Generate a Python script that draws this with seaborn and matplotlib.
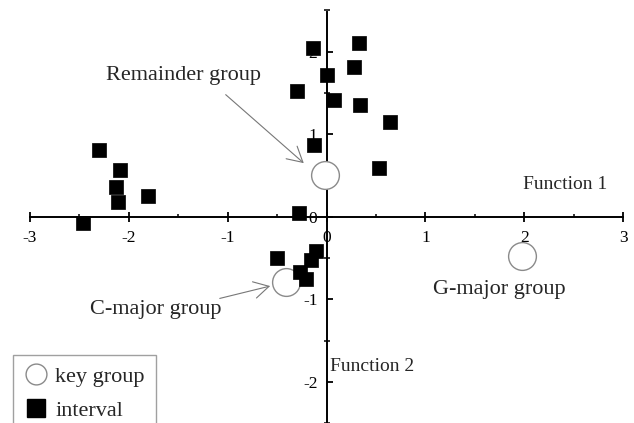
import matplotlib
matplotlib.use("Agg")
import matplotlib.pyplot as plt
from matplotlib.ticker import MultipleLocator
from matplotlib.lines import Line2D
import seaborn as sns
import pandas as pd

# ---- data ----
interval_x = [-0.14, 0.33, 0.28, 0.01, -0.30, 0.08, 0.34, 0.64, -0.13, 0.53,
              -2.30, -2.09, -2.13, -2.11, -1.81, -0.28, -2.46,
              -0.50, -0.11, -0.16, -0.27, -0.21]
interval_y = [2.04, 2.10, 1.82, 1.72, 1.52, 1.41, 1.35, 1.15, 0.87, 0.59,
              0.81, 0.57, 0.36, 0.18, 0.25, 0.05, -0.08,
              -0.50, -0.42, -0.52, -0.67, -0.76]

group_names = ["Remainder group", "C-major group", "G-major group"]
group_x = [-0.02, -0.41, 1.98]
group_y = [0.50, -0.79, -0.48]

x_ticks = [-3, -2, -1, 0, 1, 2, 3]
y_ticks = [-2, -1, 0, 1, 2]

sns.set_theme(style="white")
plt.rcParams['font.family'] = ['Liberation Serif', 'DejaVu Serif']

fig = plt.figure(figsize=(6.34, 4.23), dpi=100)
ax = fig.add_axes([30/634, 0.0, 593/634, 412.5/423])
ax.set_facecolor("white")

df_int = pd.DataFrame({"x": interval_x, "y": interval_y})
df_grp = pd.DataFrame({"x": group_x, "y": group_y, "name": group_names})

sns.scatterplot(data=df_grp, x="x", y="y", ax=ax, marker="o", s=400,
                facecolor="white", edgecolor="#8a8a8a", linewidth=1.0,
                zorder=3, clip_on=False, legend=False)
sns.scatterplot(data=df_int, x="x", y="y", ax=ax, marker="s", s=92,
                color="black", edgecolor="black", linewidth=0.5,
                zorder=4, clip_on=False, legend=False)

ax.set_xlim(-3, 3)
ax.set_ylim(-2.5, 2.5)
ax.set_xlabel("")
ax.set_ylabel("")

for s in ["top", "right"]:
    ax.spines[s].set_visible(False)
ax.spines["left"].set_position(("data", 0))
ax.spines["bottom"].set_position(("data", 0))
ax.spines["bottom"].set_bounds(-3, 3)
ax.spines["left"].set_bounds(-2.5, 2.48)
for s in ["left", "bottom"]:
    ax.spines[s].set_color("black")
    ax.spines[s].set_linewidth(1.4)

ax.set_xticks(x_ticks)
ax.set_yticks(y_ticks)
ax.set_xticklabels([str(t) for t in x_ticks])
ax.set_yticklabels([str(t) for t in y_ticks])
ax.xaxis.set_minor_locator(MultipleLocator(0.5))
ax.yaxis.set_minor_locator(MultipleLocator(0.5))
ax.tick_params(axis="x", which="major", direction="inout", length=7, width=1.3,
               pad=6, labelsize=12.5, colors="black", bottom=True)
ax.tick_params(axis="x", which="minor", direction="in", length=2.5, width=1.3,
               bottom=True)
ax.tick_params(axis="y", which="major", direction="in", length=4, width=1.3,
               pad=6.5, labelsize=12.5, colors="black", left=True)
ax.tick_params(axis="y", which="minor", direction="inout", length=4, width=1.3,
               left=True)
ax.grid(False)

# texts
ax.text(-2.23, 1.71, "Remainder group", fontsize=16, ha="left", va="center")
ax.text(-2.39, -1.13, "C-major group", fontsize=16, ha="left", va="center")
ax.text(1.08, -0.88, "G-major group", fontsize=16, ha="left", va="center")
ax.text(1.99, 0.39, "Function 1", fontsize=14, ha="left", va="center")
ax.text(0.04, -1.82, "Function 2", fontsize=14, ha="left", va="center")

arrow = dict(arrowstyle="->,head_length=0.9,head_width=0.5", color="#777777",
             lw=0.8, shrinkA=0, shrinkB=0)
ax.annotate("", xy=(-0.23, 0.65), xytext=(-1.02, 1.48), arrowprops=arrow)
ax.annotate("", xy=(-0.57, -0.84), xytext=(-1.08, -0.99), arrowprops=arrow)

handles = [
    Line2D([], [], linestyle="none", marker="o", markersize=15,
           markerfacecolor="white", markeredgecolor="#8a8a8a", markeredgewidth=1.0),
    Line2D([], [], linestyle="none", marker="s", markersize=12.5,
           markerfacecolor="black", markeredgecolor="black"),
]
leg = fig.legend(handles, ["key group", "interval"], loc="upper left",
                 bbox_to_anchor=(13/634, 1 - 355/423), bbox_transform=fig.transFigure,
                 borderaxespad=0, fontsize=16, frameon=True, fancybox=False,
                 edgecolor="#888888", borderpad=0.5, handlelength=1.05,
                 handletextpad=0.35, labelspacing=0.6)
leg.get_frame().set_linewidth(1.0)

fig.savefig("out.png", dpi=100)
